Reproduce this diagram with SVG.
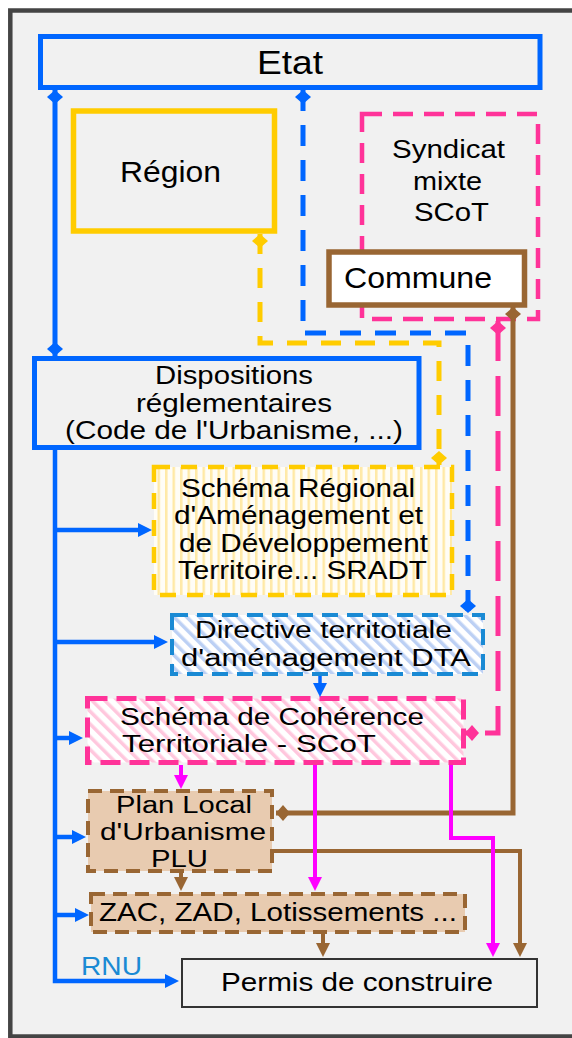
<svg xmlns="http://www.w3.org/2000/svg" width="572" height="1038" viewBox="0 0 572 1038">
<style>
text { font-family: "Liberation Sans", Arial, sans-serif; fill: #000; }
.box { fill: none; }
.blue { stroke: #0066ff; }
.c { fill: none; stroke-linejoin: miter; }
</style>
<defs>
<pattern id="pV" width="7.5" height="10" patternUnits="userSpaceOnUse">
<rect width="7.5" height="10" fill="#fffdf6"/>
<rect width="2.5" height="10" fill="#ffe9a6"/>
</pattern>
<pattern id="pBlue" width="9" height="9" patternUnits="userSpaceOnUse" patternTransform="rotate(-45)">
<rect width="9" height="9" fill="#ffffff"/>
<rect width="3.5" height="9" fill="#bcd0f4"/>
</pattern>
<pattern id="pPink" width="9" height="9" patternUnits="userSpaceOnUse" patternTransform="rotate(-45)">
<rect width="9" height="9" fill="#ffffff"/>
<rect width="3.5" height="9" fill="#ffc7dd"/>
</pattern>
<marker id="aBlue" viewBox="0 0 14 14" markerWidth="14" markerHeight="14" refX="3" refY="7" orient="auto" markerUnits="userSpaceOnUse"><path d="M0,0 L14,7 L0,14 Z" fill="#0066ff"/></marker>
<marker id="aBrown" viewBox="0 0 14 14" markerWidth="14" markerHeight="14" refX="3" refY="7" orient="auto" markerUnits="userSpaceOnUse"><path d="M0,0 L14,7 L0,14 Z" fill="#996633"/></marker>
<marker id="aMag" viewBox="0 0 14 14" markerWidth="14" markerHeight="14" refX="3" refY="7" orient="auto" markerUnits="userSpaceOnUse"><path d="M0,0 L14,7 L0,14 Z" fill="#ff00ff"/></marker>
<marker id="dBlue" viewBox="0 0 14 16" markerWidth="14" markerHeight="16" refX="14" refY="8" orient="auto-start-reverse" markerUnits="userSpaceOnUse"><path d="M0,8 L7,0 L14,8 L7,16 Z" fill="#0066ff"/></marker>
<marker id="dYel" viewBox="0 0 14 16" markerWidth="14" markerHeight="16" refX="14" refY="8" orient="auto-start-reverse" markerUnits="userSpaceOnUse"><path d="M0,8 L7,0 L14,8 L7,16 Z" fill="#ffcc00"/></marker>
<marker id="dPink" viewBox="0 0 14 16" markerWidth="14" markerHeight="16" refX="14" refY="8" orient="auto-start-reverse" markerUnits="userSpaceOnUse"><path d="M0,8 L7,0 L14,8 L7,16 Z" fill="#ff3399"/></marker>
<marker id="dBrown" viewBox="0 0 14 16" markerWidth="14" markerHeight="16" refX="14" refY="8" orient="auto-start-reverse" markerUnits="userSpaceOnUse"><path d="M0,8 L7,0 L14,8 L7,16 Z" fill="#996633"/></marker>
</defs>

<rect width="572" height="1038" fill="#ffffff"/>
<rect x="10.3" y="10.5" width="620" height="1026" fill="#f1f1f1" stroke="#444444" stroke-width="4.5"/>

<g id="etat">
<rect x="40.5" y="36.5" width="499.5" height="51" fill="#f1f1f1" stroke="#0066ff" stroke-width="5"/>
<text x="257" y="74" font-size="32.5" textLength="66" lengthAdjust="spacingAndGlyphs">Etat</text>
</g>

<g id="region">
<rect x="73.5" y="111" width="201" height="120" fill="#f1f1f1" stroke="#ffcc00" stroke-width="5.5"/>
<text x="120" y="182" font-size="29" textLength="101" lengthAdjust="spacingAndGlyphs">Région</text>
</g>

<g id="syndicat">
<rect x="362" y="114" width="176" height="205" fill="none" stroke="#ff3399" stroke-width="4.5" stroke-dasharray="20 11"/>
<text x="392" y="158" font-size="26" textLength="113" lengthAdjust="spacingAndGlyphs">Syndicat</text>
<text x="413" y="190" font-size="26" textLength="69" lengthAdjust="spacingAndGlyphs">mixte</text>
<text x="414" y="221" font-size="26" textLength="75" lengthAdjust="spacingAndGlyphs">SCoT</text>
</g>

<g id="commune">
<rect x="329" y="252" width="195.5" height="53" fill="#ffffff" stroke="#996633" stroke-width="5.5"/>
<text x="344" y="288" font-size="29" textLength="148" lengthAdjust="spacingAndGlyphs">Commune</text>
</g>

<g id="dispositions">
<rect x="34.5" y="358.5" width="384.5" height="89" fill="#f1f1f1" stroke="#0066ff" stroke-width="5"/>
<text x="155" y="384" font-size="25" textLength="158" lengthAdjust="spacingAndGlyphs">Dispositions</text>
<text x="136" y="412" font-size="25" textLength="196" lengthAdjust="spacingAndGlyphs">réglementaires</text>
<text x="65" y="439" font-size="25" textLength="338" lengthAdjust="spacingAndGlyphs">(Code de l'Urbanisme, ...)</text>
</g>

<g id="sradt">
<rect x="154" y="467" width="298" height="128" fill="url(#pV)" stroke="#ffcc00" stroke-width="4.5" stroke-dasharray="16 11"/>
<text x="181" y="497" font-size="25.5" textLength="234" lengthAdjust="spacingAndGlyphs">Schéma Régional</text>
<text x="174" y="524" font-size="25.5" textLength="249" lengthAdjust="spacingAndGlyphs">d'Aménagement et</text>
<text x="179" y="552" font-size="25.5" textLength="249" lengthAdjust="spacingAndGlyphs">de Développement</text>
<text x="178" y="579" font-size="25.5" textLength="249" lengthAdjust="spacingAndGlyphs">Territoire... SRADT</text>
</g>

<g id="dta">
<rect x="172" y="615" width="311" height="59" fill="url(#pBlue)" stroke="#1a8ad4" stroke-width="4" stroke-dasharray="16 9"/>
<text x="195" y="638" font-size="23.5" textLength="257" lengthAdjust="spacingAndGlyphs">Directive territotiale</text>
<text x="181" y="666" font-size="23.5" textLength="290" lengthAdjust="spacingAndGlyphs">d'aménagement DTA</text>
</g>

<g id="scot">
<rect x="87.5" y="698.5" width="376" height="64" fill="url(#pPink)" stroke="#ff3399" stroke-width="5" stroke-dasharray="20 9"/>
<text x="120" y="725" font-size="24.7" textLength="304" lengthAdjust="spacingAndGlyphs">Schéma de Cohérence</text>
<text x="122" y="752" font-size="24.7" textLength="254" lengthAdjust="spacingAndGlyphs">Territoriale - SCoT</text>
</g>

<g id="plu">
<rect x="88" y="791" width="184" height="80" fill="#e8cbb0" stroke="#996633" stroke-width="4" stroke-dasharray="14 8"/>
<text x="116" y="813" font-size="24.7" textLength="136" lengthAdjust="spacingAndGlyphs">Plan Local</text>
<text x="100" y="840" font-size="24.7" textLength="166" lengthAdjust="spacingAndGlyphs">d'Urbanisme</text>
<text x="151" y="867" font-size="24.7" textLength="57" lengthAdjust="spacingAndGlyphs">PLU</text>
</g>

<g id="zac">
<rect x="91" y="894" width="374" height="38" fill="#e8cbb0" stroke="#996633" stroke-width="4" stroke-dasharray="14 8"/>
<text x="99" y="921" font-size="25.5" textLength="358" lengthAdjust="spacingAndGlyphs">ZAC, ZAD, Lotissements ...</text>
</g>

<g id="permis">
<rect x="182" y="959" width="355" height="48" fill="#f1f1f1" stroke="#333333" stroke-width="2"/>
<text x="221" y="991" font-size="26" textLength="272" lengthAdjust="spacingAndGlyphs">Permis de construire</text>
</g>

<g id="connectors">
<path class="c" d="M55,90 V356" stroke="#0066ff" stroke-width="5" marker-start="url(#dBlue)" marker-end="url(#dBlue)"/>
<path class="c" d="M303,90 V333 H468 V613" stroke="#0066ff" stroke-width="5" stroke-dasharray="21 14" marker-start="url(#dBlue)" marker-end="url(#dBlue)"/>
<path class="c" d="M260,234 V343 H439 V465" stroke="#ffcc00" stroke-width="5" stroke-dasharray="20 14" marker-start="url(#dYel)" marker-end="url(#dYel)"/>
<path class="c" d="M498,321 V733 H465" stroke="#ff3399" stroke-width="5" stroke-dasharray="40 15" marker-start="url(#dPink)" marker-end="url(#dPink)"/>

<path class="c" d="M55,450 V981 H168" stroke="#0066ff" stroke-width="4.5" marker-end="url(#aBlue)"/>
<path class="c" d="M55,530 H141" stroke="#0066ff" stroke-width="4.5" marker-end="url(#aBlue)"/>
<path class="c" d="M55,642 H157" stroke="#0066ff" stroke-width="4.5" marker-end="url(#aBlue)"/>
<path class="c" d="M55,738 H72" stroke="#0066ff" stroke-width="4.5" marker-end="url(#aBlue)"/>
<path class="c" d="M55,837 H75" stroke="#0066ff" stroke-width="4.5" marker-end="url(#aBlue)"/>
<path class="c" d="M55,915 H78" stroke="#0066ff" stroke-width="4.5" marker-end="url(#aBlue)"/>
<path class="c" d="M320,676 V686" stroke="#0066ff" stroke-width="3.5" marker-end="url(#aBlue)"/>
<text x="81" y="975" font-size="25" textLength="61" lengthAdjust="spacingAndGlyphs" style="fill:#1a8ad4">RNU</text>

<path class="c" d="M513,307 V813 H276" stroke="#996633" stroke-width="5" marker-start="url(#dBrown)" marker-end="url(#dBrown)"/>
<path class="c" d="M274,851 H520 V946" stroke="#996633" stroke-width="4" marker-end="url(#aBrown)"/>
<path class="c" d="M181,873 V880" stroke="#996633" stroke-width="4" marker-end="url(#aBrown)"/>
<path class="c" d="M323,934 V946" stroke="#996633" stroke-width="4" marker-end="url(#aBrown)"/>

<path class="c" d="M181,765 V778" stroke="#ff00ff" stroke-width="4" marker-end="url(#aMag)"/>
<path class="c" d="M315,765 V880" stroke="#ff00ff" stroke-width="4" marker-end="url(#aMag)"/>
<path class="c" d="M451,765 V838 H493 V946" stroke="#ff00ff" stroke-width="4" marker-end="url(#aMag)"/>
</g>
</svg>
